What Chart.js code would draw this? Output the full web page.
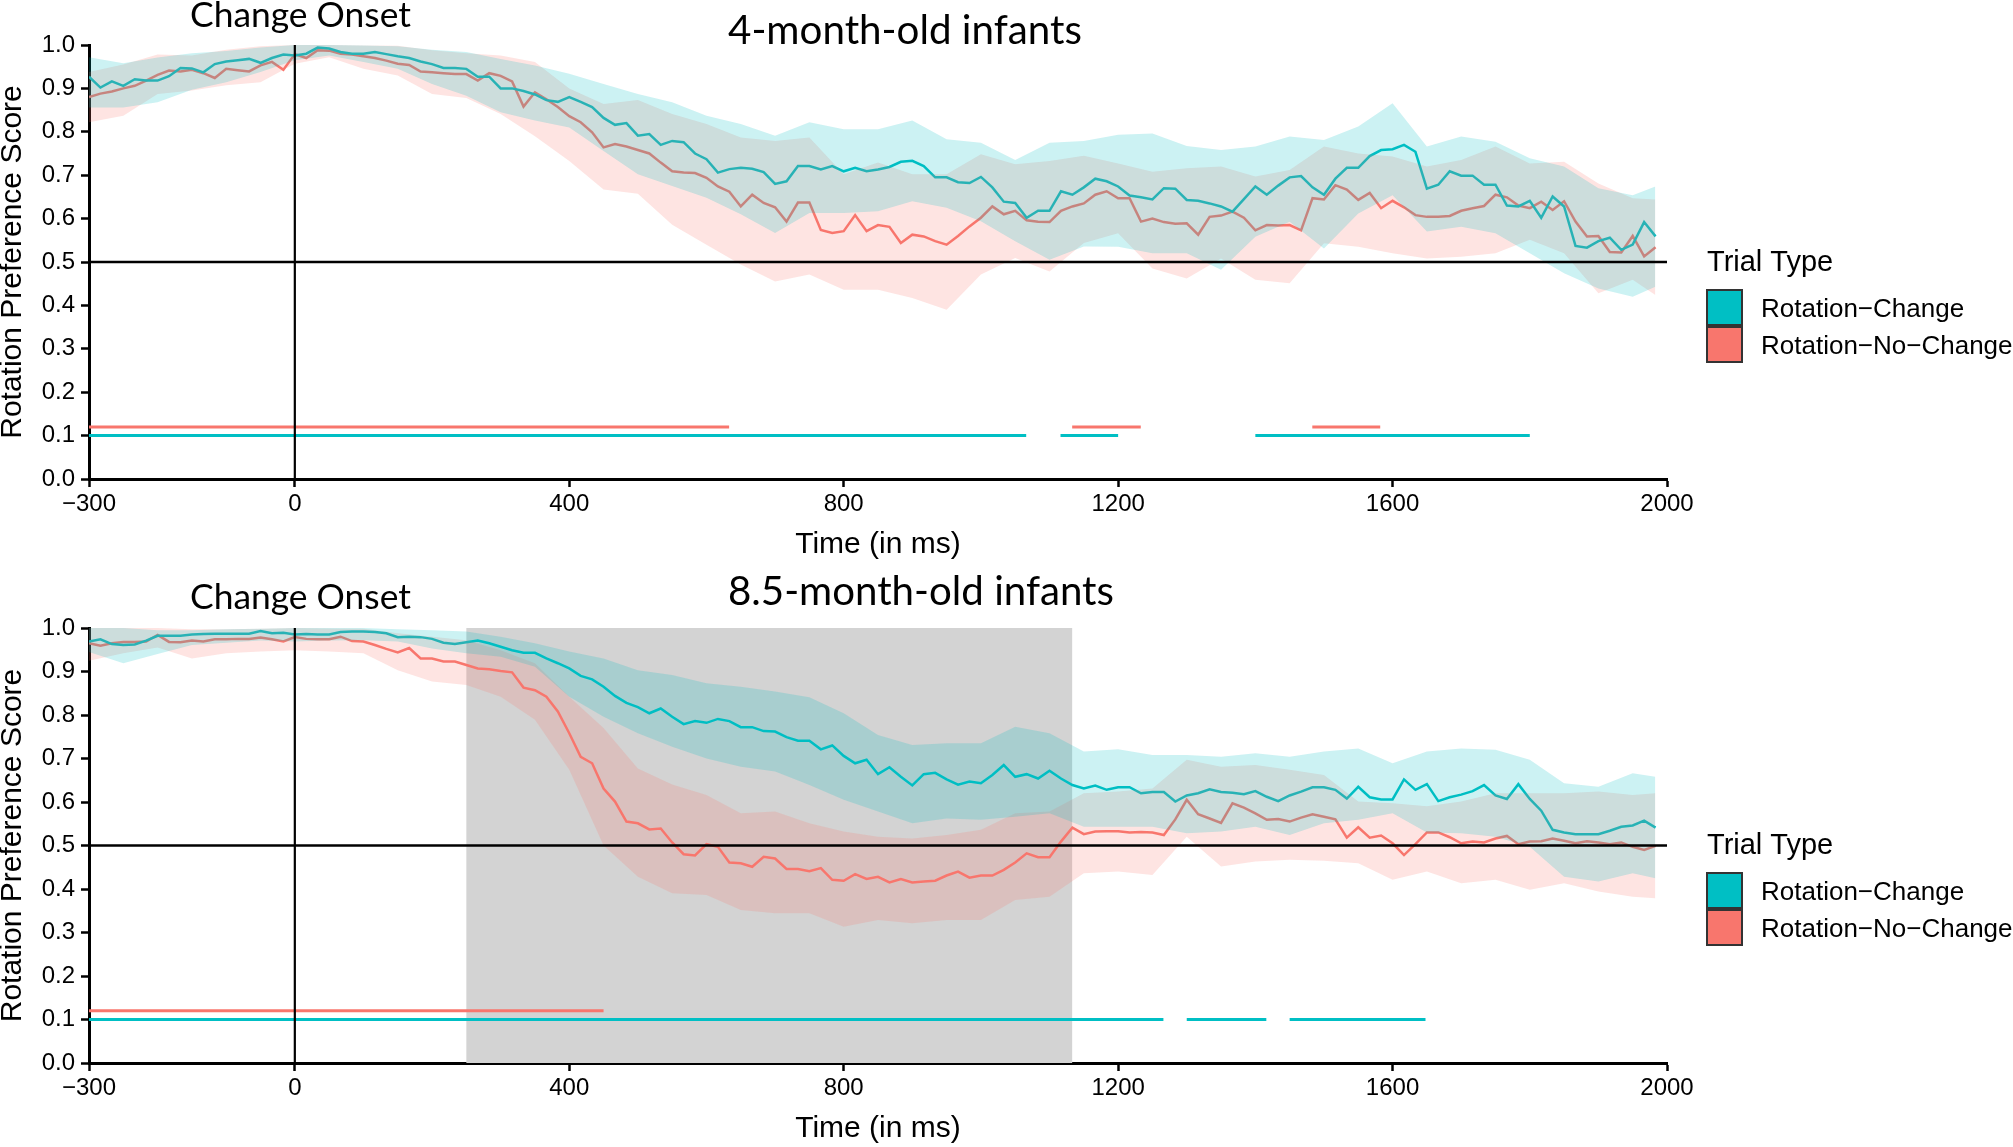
<!DOCTYPE html>
<html>
<head>
<meta charset="utf-8">
<script src="https://cdn.jsdelivr.net/npm/chart.js@4.4.1/dist/chart.umd.min.js"></script>
<style>
  html, body { margin: 0; padding: 0; background: #fff; overflow: hidden; }
  body { width: 2013px; height: 1147px; position: relative; }
  .panel { position: absolute; left: 0; width: 2013px; }
  .panel canvas { display: block; }
</style>
</head>
<body>
<div class="panel" style="top:0;height:574px"><canvas id="chart4" width="2013" height="574"></canvas></div>
<div class="panel" style="top:560px;height:587px"><canvas id="chart85" width="2013" height="587"></canvas></div>
<script>
// eye-tracker samples every 1/60 s from -300 ms
const sampleTimes = Array.from({length: 138}, (_, i) => -300 + i * 1000 / 60);
// confidence band vertices
const bandTimes = [-300, -250, -200, -150, -100, -50, 0, 50, 100, 150, 200, 250, 300, 350, 400, 450, 500, 550, 600, 650,
    700, 750, 800, 850, 900, 950, 1000, 1050, 1100, 1150, 1200, 1250, 1300, 1350, 1400, 1450, 1500, 1550, 1600, 1650,
    1700, 1750, 1800, 1850, 1900, 1950, 1983];
const xTickValues = [-300, 0, 400, 800, 1200, 1600, 2000];
const chanceLevel = 0.5;
const onsetTime = 0;
const sigLevelChange = 0.10;
const sigLevelNoChange = 0.12;

// ---- 4-month-old infants ----
const change4 = [
    0.927, 0.902, 0.916, 0.906, 0.921, 0.918, 0.918, 0.928, 0.947, 0.946,
    0.937, 0.956, 0.962, 0.965, 0.968, 0.959, 0.970, 0.978, 0.976, 0.980,
    0.994, 0.992, 0.984, 0.980, 0.980, 0.984, 0.979, 0.974, 0.970, 0.962,
    0.956, 0.947, 0.947, 0.945, 0.927, 0.927, 0.900, 0.900, 0.894, 0.886,
    0.873, 0.869, 0.880, 0.869, 0.857, 0.832, 0.816, 0.820, 0.791, 0.795,
    0.770, 0.779, 0.776, 0.750, 0.737, 0.706, 0.714, 0.717, 0.715, 0.707,
    0.680, 0.686, 0.721, 0.721, 0.713, 0.721, 0.709, 0.717, 0.709, 0.713,
    0.719, 0.731, 0.733, 0.721, 0.695, 0.695, 0.684, 0.682, 0.696, 0.672,
    0.639, 0.636, 0.602, 0.618, 0.618, 0.663, 0.655, 0.672, 0.692, 0.686,
    0.674, 0.653, 0.649, 0.644, 0.670, 0.669, 0.643, 0.641, 0.635, 0.628,
    0.616, 0.645, 0.674, 0.655, 0.676, 0.695, 0.698, 0.672, 0.655, 0.692,
    0.717, 0.717, 0.744, 0.758, 0.760, 0.770, 0.754, 0.669, 0.678, 0.709,
    0.699, 0.699, 0.678, 0.678, 0.630, 0.628, 0.641, 0.602, 0.651, 0.628,
    0.537, 0.533, 0.548, 0.556, 0.528, 0.540, 0.592, 0.559];
const noChange4 = [
    0.880, 0.888, 0.893, 0.900, 0.906, 0.918, 0.931, 0.941, 0.939, 0.943,
    0.935, 0.924, 0.945, 0.942, 0.939, 0.953, 0.961, 0.943, 0.979, 0.970,
    0.988, 0.987, 0.980, 0.978, 0.974, 0.970, 0.964, 0.957, 0.954, 0.939,
    0.937, 0.935, 0.933, 0.933, 0.918, 0.935, 0.929, 0.916, 0.858, 0.891,
    0.875, 0.857, 0.836, 0.822, 0.799, 0.764, 0.772, 0.766, 0.758, 0.750,
    0.729, 0.709, 0.706, 0.705, 0.694, 0.674, 0.662, 0.628, 0.655, 0.636,
    0.626, 0.593, 0.637, 0.637, 0.574, 0.567, 0.571, 0.608, 0.571, 0.585,
    0.581, 0.544, 0.563, 0.559, 0.548, 0.540, 0.560, 0.582, 0.602, 0.628,
    0.610, 0.618, 0.596, 0.593, 0.592, 0.618, 0.628, 0.635, 0.655, 0.663,
    0.647, 0.647, 0.593, 0.600, 0.592, 0.588, 0.589, 0.563, 0.604, 0.607,
    0.616, 0.602, 0.573, 0.585, 0.584, 0.585, 0.573, 0.647, 0.644, 0.677,
    0.667, 0.643, 0.659, 0.624, 0.641, 0.626, 0.608, 0.604, 0.604, 0.606,
    0.618, 0.624, 0.629, 0.655, 0.649, 0.630, 0.624, 0.639, 0.620, 0.640,
    0.593, 0.559, 0.560, 0.523, 0.522, 0.560, 0.513, 0.534];
const change4Hi = [0.972, 0.958, 0.971, 0.981, 0.986, 0.994, 1.0, 1.0, 0.999, 0.997, 0.989, 0.984, 0.968, 0.953, 0.934,
    0.910, 0.887, 0.868, 0.837, 0.818, 0.791, 0.822, 0.806, 0.806, 0.826, 0.783, 0.775, 0.735, 0.775, 0.779, 0.793,
    0.796, 0.767, 0.758, 0.766, 0.789, 0.781, 0.812, 0.866, 0.766, 0.789, 0.777, 0.739, 0.720, 0.670, 0.654, 0.674];
const change4Lo = [0.856, 0.856, 0.868, 0.897, 0.914, 0.938, 0.965, 0.976, 0.961, 0.945, 0.910, 0.883, 0.845, 0.826, 0.810,
    0.756, 0.702, 0.675, 0.648, 0.610, 0.567, 0.613, 0.613, 0.617, 0.640, 0.625, 0.594, 0.548, 0.505, 0.536, 0.535,
    0.520, 0.520, 0.482, 0.558, 0.593, 0.531, 0.612, 0.654, 0.570, 0.581, 0.566, 0.520, 0.474, 0.439, 0.420, 0.443];
const noChange4Hi = [0.938, 0.955, 0.978, 0.976, 0.989, 0.997, 1.0, 1.0, 0.999, 0.998, 0.988, 0.981, 0.976, 0.961, 0.900,
    0.864, 0.873, 0.841, 0.818, 0.787, 0.779, 0.787, 0.702, 0.729, 0.702, 0.702, 0.748, 0.725, 0.733, 0.745, 0.727,
    0.708, 0.716, 0.720, 0.697, 0.712, 0.766, 0.750, 0.743, 0.720, 0.735, 0.766, 0.727, 0.731, 0.681, 0.647, 0.644];
const noChange4Lo = [0.822, 0.837, 0.887, 0.895, 0.907, 0.914, 0.957, 0.972, 0.945, 0.930, 0.887, 0.878, 0.841, 0.790, 0.733,
    0.667, 0.657, 0.586, 0.540, 0.494, 0.455, 0.471, 0.436, 0.436, 0.417, 0.390, 0.471, 0.509, 0.478, 0.544, 0.566,
    0.485, 0.462, 0.508, 0.459, 0.451, 0.543, 0.535, 0.520, 0.508, 0.512, 0.520, 0.551, 0.520, 0.428, 0.459, 0.424];
const sigChange4 = [[-300, 1066], [1116, 1200], [1400, 1800]];
const sigNoChange4 = [[-300, 633], [1133, 1233], [1483, 1582]];

// ---- 8.5-month-old infants ----
const change85 = [
    0.969, 0.974, 0.963, 0.961, 0.962, 0.971, 0.982, 0.982, 0.982, 0.985,
    0.986, 0.987, 0.987, 0.987, 0.987, 0.993, 0.988, 0.989, 0.985, 0.986,
    0.985, 0.985, 0.991, 0.992, 0.992, 0.991, 0.988, 0.979, 0.980, 0.979,
    0.975, 0.966, 0.963, 0.967, 0.971, 0.965, 0.957, 0.949, 0.943, 0.943,
    0.930, 0.919, 0.907, 0.890, 0.882, 0.865, 0.844, 0.828, 0.818, 0.804,
    0.815, 0.796, 0.779, 0.786, 0.782, 0.791, 0.786, 0.772, 0.772, 0.763,
    0.762, 0.749, 0.741, 0.741, 0.721, 0.730, 0.706, 0.689, 0.697, 0.664,
    0.680, 0.658, 0.638, 0.664, 0.667, 0.652, 0.640, 0.647, 0.643, 0.662,
    0.685, 0.658, 0.664, 0.654, 0.672, 0.654, 0.639, 0.631, 0.638, 0.628,
    0.634, 0.634, 0.620, 0.623, 0.623, 0.601, 0.615, 0.620, 0.629, 0.623,
    0.621, 0.618, 0.625, 0.612, 0.602, 0.615, 0.624, 0.634, 0.634, 0.628,
    0.608, 0.635, 0.611, 0.606, 0.606, 0.652, 0.628, 0.641, 0.602, 0.611,
    0.617, 0.625, 0.639, 0.615, 0.607, 0.641, 0.607, 0.580, 0.536, 0.530,
    0.526, 0.526, 0.526, 0.534, 0.543, 0.546, 0.557, 0.541];
const noChange85 = [
    0.965, 0.959, 0.965, 0.968, 0.968, 0.969, 0.984, 0.968, 0.967, 0.971,
    0.969, 0.974, 0.974, 0.975, 0.975, 0.978, 0.974, 0.969, 0.979, 0.975,
    0.974, 0.974, 0.980, 0.970, 0.969, 0.961, 0.952, 0.944, 0.954, 0.930,
    0.930, 0.923, 0.923, 0.915, 0.907, 0.905, 0.901, 0.898, 0.863, 0.857,
    0.842, 0.808, 0.758, 0.704, 0.689, 0.631, 0.601, 0.555, 0.551, 0.537,
    0.539, 0.507, 0.480, 0.477, 0.503, 0.497, 0.461, 0.459, 0.451, 0.474,
    0.470, 0.446, 0.446, 0.441, 0.448, 0.421, 0.419, 0.434, 0.423, 0.428,
    0.415, 0.423, 0.415, 0.417, 0.419, 0.431, 0.440, 0.426, 0.431, 0.431,
    0.444, 0.461, 0.482, 0.473, 0.473, 0.509, 0.541, 0.526, 0.532, 0.533,
    0.533, 0.530, 0.531, 0.530, 0.524, 0.560, 0.605, 0.572, 0.562, 0.552,
    0.597, 0.587, 0.574, 0.559, 0.561, 0.555, 0.564, 0.572, 0.566, 0.560,
    0.518, 0.542, 0.518, 0.523, 0.505, 0.478, 0.503, 0.530, 0.530, 0.519,
    0.505, 0.509, 0.507, 0.516, 0.522, 0.503, 0.509, 0.510, 0.516, 0.511,
    0.505, 0.510, 0.507, 0.503, 0.507, 0.497, 0.490, 0.499];
const change85Hi = [1.0, 1.0, 0.995, 0.995, 0.997, 0.998, 1.0, 1.0, 1.0, 0.997, 0.995, 0.992, 0.980, 0.965, 0.946,
    0.930, 0.903, 0.892, 0.873, 0.865, 0.854, 0.841, 0.804, 0.754, 0.731, 0.735, 0.735, 0.773, 0.758, 0.716, 0.721,
    0.708, 0.708, 0.704, 0.712, 0.704, 0.716, 0.723, 0.689, 0.716, 0.723, 0.720, 0.697, 0.643, 0.635, 0.666, 0.658];
const change85Lo = [0.945, 0.919, 0.940, 0.961, 0.966, 0.971, 0.969, 0.971, 0.972, 0.969, 0.953, 0.942, 0.934, 0.911, 0.842,
    0.796, 0.758, 0.727, 0.700, 0.681, 0.670, 0.639, 0.605, 0.578, 0.551, 0.562, 0.559, 0.566, 0.574, 0.543, 0.543,
    0.543, 0.528, 0.532, 0.543, 0.524, 0.551, 0.559, 0.574, 0.530, 0.528, 0.520, 0.497, 0.428, 0.417, 0.436, 0.425];
const noChange85Hi = [1.0, 1.0, 1.0, 0.997, 0.997, 0.998, 1.0, 0.999, 0.998, 0.988, 0.980, 0.972, 0.949, 0.919, 0.842,
    0.770, 0.677, 0.640, 0.616, 0.574, 0.578, 0.551, 0.532, 0.520, 0.516, 0.524, 0.536, 0.574, 0.578, 0.620, 0.624,
    0.631, 0.697, 0.681, 0.685, 0.674, 0.662, 0.601, 0.597, 0.590, 0.601, 0.620, 0.620, 0.620, 0.624, 0.616, 0.620];
const noChange85Lo = [0.925, 0.942, 0.955, 0.930, 0.942, 0.946, 0.949, 0.946, 0.942, 0.903, 0.877, 0.869, 0.842, 0.789, 0.674,
    0.500, 0.428, 0.390, 0.386, 0.352, 0.344, 0.344, 0.313, 0.329, 0.321, 0.329, 0.329, 0.375, 0.382, 0.436, 0.440,
    0.432, 0.520, 0.452, 0.463, 0.467, 0.465, 0.459, 0.421, 0.440, 0.413, 0.421, 0.398, 0.413, 0.394, 0.382, 0.379];
const sigChange85 = [[-300, 1266], [1300, 1416], [1450, 1648]];
const sigNoChange85 = [[-300, 450]];
const shade85 = [250, 1133];

const changeColor = '#00BFC4';
const noChangeColor = '#F8766D';
const changeBand = 'rgba(0, 191, 196, 0.2)';
const noChangeBand = 'rgba(248, 118, 109, 0.2)';
const axisFont = 'Liberation Sans, Arial, Helvetica, sans-serif';
const titleFont = 'Lato, Calibri, sans-serif';

function fitFontSize(ctx, text, family, targetWidth) {
    ctx.font = `100px ${family}`;
    return 100 * targetWidth / ctx.measureText(text).width;
}

const panelDecor = {
    id: 'panelDecor',
    beforeDatasetsDraw(chart, args, opts) {
        if (!opts.shade) return;
        const {ctx, scales: {x, y}} = chart;
        const x0 = x.getPixelForValue(opts.shade[0]);
        const x1 = x.getPixelForValue(opts.shade[1]);
        const y0 = y.getPixelForValue(1);
        const y1 = y.getPixelForValue(0);
        ctx.save();
        ctx.fillStyle = '#d3d3d3';
        ctx.fillRect(x0, y0, x1 - x0, y1 - y0);
        ctx.restore();
    },
    afterDatasetsDraw(chart) {
        const {ctx, scales: {x, y}} = chart;
        ctx.save();
        ctx.strokeStyle = '#000';
        ctx.lineWidth = 2.6;
        ctx.beginPath();
        ctx.moveTo(x.getPixelForValue(x.min), y.getPixelForValue(chanceLevel));
        ctx.lineTo(x.getPixelForValue(x.max), y.getPixelForValue(chanceLevel));
        ctx.stroke();
        ctx.lineWidth = 2.2;
        ctx.beginPath();
        ctx.moveTo(x.getPixelForValue(onsetTime), y.getPixelForValue(0));
        ctx.lineTo(x.getPixelForValue(onsetTime), y.getPixelForValue(1));
        ctx.stroke();
        ctx.restore();
    },
    afterDraw(chart, args, opts) {
        const ctx = chart.ctx;
        const off = opts.canvasTop;  // page y of this canvas
        ctx.save();
        ctx.fillStyle = '#000';
        ctx.textAlign = 'left';
        ctx.textBaseline = 'alphabetic';

        // panel titles
        let size = fitFontSize(ctx, 'Change Onset', titleFont, 221);
        ctx.font = `${size}px ${titleFont}`;
        ctx.fillText('Change Onset', 190, opts.onsetBaseline - off);
        size = fitFontSize(ctx, opts.title, titleFont, opts.titleWidth);
        ctx.font = `${size}px ${titleFont}`;
        ctx.fillText(opts.title, 728, opts.titleBaseline - off);

        // legend
        const lt = opts.legendTop - off;
        ctx.font = `29px ${axisFont}`;
        ctx.fillText('Trial Type', 1707, lt + 271);
        const keys = [
            {label: 'Rotation\u2212Change', color: changeColor, top: 290},
            {label: 'Rotation\u2212No\u2212Change', color: noChangeColor, top: 327}
        ];
        ctx.font = `26px ${axisFont}`;
        keys.forEach(k => {
            ctx.fillStyle = k.color;
            ctx.fillRect(1707, lt + k.top, 35, 35);
            ctx.strokeStyle = '#333';
            ctx.lineWidth = 2;
            ctx.strokeRect(1707, lt + k.top, 35, 35);
            ctx.fillStyle = '#000';
            ctx.fillText(k.label, 1761, lt + k.top + 27);
        });
        ctx.restore();
    }
};

function buildDatasets(p) {
    const meanPoints = arr => arr.map((v, i) => ({x: sampleTimes[i], y: v}));
    const bandPoints = arr => arr.map((v, i) => ({x: bandTimes[i], y: v}));
    const datasets = [
        // ribbons sit above the mean lines
        {data: bandPoints(p.changeHi), fill: '+1', backgroundColor: changeBand, borderWidth: 0, pointRadius: 0, order: 1},
        {data: bandPoints(p.changeLo), fill: false, borderWidth: 0, pointRadius: 0, order: 1},
        {data: bandPoints(p.noChangeHi), fill: '+1', backgroundColor: noChangeBand, borderWidth: 0, pointRadius: 0, order: 1},
        {data: bandPoints(p.noChangeLo), fill: false, borderWidth: 0, pointRadius: 0, order: 1},
        {data: meanPoints(p.change), borderColor: changeColor, borderWidth: 2.5, pointRadius: 0, fill: false, order: 2},
        {data: meanPoints(p.noChange), borderColor: noChangeColor, borderWidth: 2.5, pointRadius: 0, fill: false, order: 2}
    ];
    p.sigChange.forEach(s => datasets.push({
        data: s.map(t => ({x: t, y: sigLevelChange})),
        borderColor: changeColor, borderWidth: 3, pointRadius: 0, fill: false, order: 3
    }));
    p.sigNoChange.forEach(s => datasets.push({
        data: s.map(t => ({x: t, y: sigLevelNoChange})),
        borderColor: noChangeColor, borderWidth: 3, pointRadius: 0, fill: false, order: 3
    }));
    return datasets;
}

// box: page y of the canvas top, canvas height, page y of the plot top/bottom
function createPanel(canvasId, p, box, decor) {
    const ctx = document.getElementById(canvasId).getContext('2d');
    const xAxisHeight = box.canvasTop + box.height - box.plotBottom;
    return new Chart(ctx, {
        type: 'line',
        data: {datasets: buildDatasets(p)},
        options: {
            responsive: false,
            animation: false,
            devicePixelRatio: 1,
            layout: {padding: {top: box.plotTop - box.canvasTop, right: 346, bottom: 0, left: 0}},
            plugins: {
                legend: {display: false},
                tooltip: {enabled: false},
                panelDecor: Object.assign({canvasTop: box.canvasTop}, decor)
            },
            scales: {
                x: {
                    type: 'linear',
                    min: -300,
                    max: 2000,
                    afterFit: s => { s.height = xAxisHeight; },
                    afterBuildTicks: s => { s.ticks = xTickValues.map(v => ({value: v})); },
                    border: {display: true, color: '#000', width: 3},
                    grid: {drawOnChartArea: false, drawTicks: true, tickLength: 8, tickWidth: 2.5, tickColor: '#000'},
                    ticks: {
                        autoSkip: false,
                        maxRotation: 0,
                        padding: 3,
                        color: '#000',
                        font: {family: axisFont, size: 24},
                        callback: v => v < 0 ? '\u2212' + Math.abs(v) : String(v)
                    },
                    title: {
                        display: true,
                        text: 'Time (in ms)',
                        color: '#000',
                        font: {family: axisFont, size: 30},
                        padding: {top: 0, bottom: box.xTitlePad}
                    }
                },
                y: {
                    min: 0,
                    max: 1,
                    afterFit: s => { s.width = 89; },
                    border: {display: true, color: '#000', width: 3},
                    grid: {drawOnChartArea: false, drawTicks: true, tickLength: 8, tickWidth: 2.5, tickColor: '#000'},
                    ticks: {
                        stepSize: 0.1,
                        padding: 6,
                        color: '#000',
                        font: {family: axisFont, size: 24},
                        callback: v => Number(v).toFixed(1)
                    },
                    title: {
                        display: true,
                        text: 'Rotation Preference Score',
                        color: '#000',
                        font: {family: axisFont, size: 30, lineHeight: 0.85},
                        padding: {top: 0, bottom: 0}
                    }
                }
            }
        },
        plugins: [panelDecor]
    });
}

createPanel('chart4', {
    change: change4, noChange: noChange4,
    changeHi: change4Hi, changeLo: change4Lo,
    noChangeHi: noChange4Hi, noChangeLo: noChange4Lo,
    sigChange: sigChange4, sigNoChange: sigNoChange4
}, {canvasTop: 0, height: 574, plotTop: 45, plotBottom: 479, xTitlePad: 11},
{title: '4-month-old infants', titleWidth: 354, titleBaseline: 44, onsetBaseline: 27, legendTop: 0, shade: null});

createPanel('chart85', {
    change: change85, noChange: noChange85,
    changeHi: change85Hi, changeLo: change85Lo,
    noChangeHi: noChange85Hi, noChangeLo: noChange85Lo,
    sigChange: sigChange85, sigNoChange: sigNoChange85
}, {canvasTop: 560, height: 587, plotTop: 628, plotBottom: 1063, xTitlePad: 0},
{title: '8.5-month-old infants', titleWidth: 386, titleBaseline: 605, onsetBaseline: 609, legendTop: 583, shade: shade85});
</script>
</body>
</html>
